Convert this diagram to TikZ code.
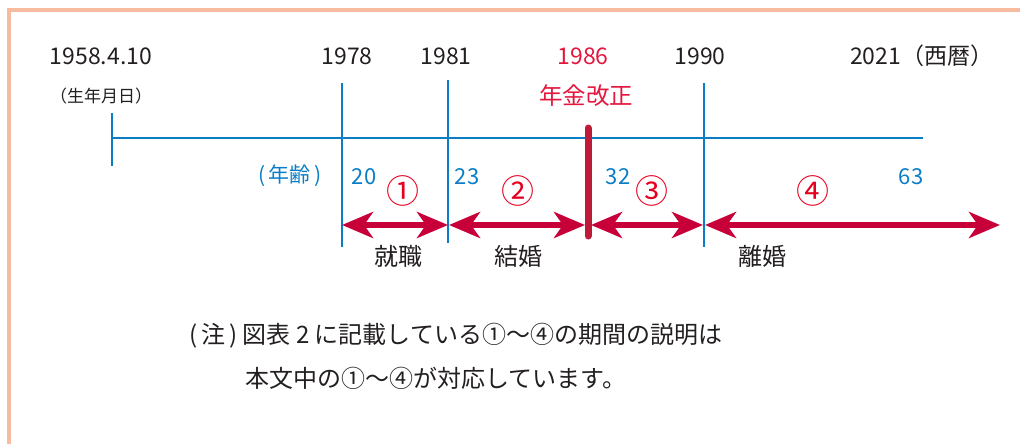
\documentclass[tikz,border=0pt]{standalone}
\usepackage{fontspec}
\setmainfont{Noto Sans CJK JP}
\usetikzlibrary{arrows.meta}
\definecolor{frameC}{HTML}{F7BBA0}
\definecolor{blueC}{HTML}{0A7DC6}
\definecolor{redT}{HTML}{E3173E}
\definecolor{redN}{HTML}{E60020}
\definecolor{arrC}{HTML}{C8003A}
\definecolor{barC}{HTML}{BE1A3A}
\definecolor{txt}{HTML}{231F20}
\tikzset{
  lbl/.style={inner sep=0pt, text=txt},
  yearlbl/.style={lbl, font=\fontsize{23}{23}\selectfont, anchor=base},
  agelbl/.style={inner sep=0pt, text=blueC, font=\fontsize{22}{22}\selectfont, anchor=base},
  numlbl/.style={inner sep=0pt, text=redN, font=\fontsize{33}{33}\selectfont},
  evlbl/.style={lbl, font=\fontsize{24}{24}\selectfont},
  notelbl/.style={lbl, anchor=west, font=\fontsize{24}{24}\selectfont},
  tline/.style={draw=blueC, line width=2pt},
  bigarrow/.style={draw=arrC, line width=6pt, {Stealth[length=31pt,width=26pt,inset=9pt]}-{Stealth[length=31pt,width=26pt,inset=9pt]}},
}
\begin{document}
\begin{tikzpicture}[x=1pt,y=-1pt]
\useasboundingbox (0,0) rectangle (1020,444);
% frame
\draw[frameC, line width=4pt] (9,470) -- (9,10.5) -- (1040,10.5);

% year labels
\node[yearlbl] (y1958) at (101,64) {1958.4.10};
\node[lbl, font=\fontsize{17}{17}\selectfont] (birth) at (101,96) {（生年月日）};
\node[yearlbl] (y1978) at (347,64) {1978};
\node[yearlbl] (y1981) at (446,64) {1981};
\node[yearlbl, text=redT] (y1986) at (583,64) {1986};
\node[yearlbl] (y1990) at (700,64) {1990};
\node[yearlbl, anchor=base west] (y2021) at (850,64) {2021（西暦）};
\node[inner sep=0pt, text=redT, font=\fontsize{23.5}{23.5}\selectfont] (kaisei) at (586,96) {年金改正};

% timeline
\coordinate (t0) at (112,138);
\coordinate (tE) at (923,138);
\coordinate (t0a) at (112,113);
\coordinate (t0b) at (112,166);
\draw[tline] (t0) -- (tE);
\draw[tline] (t0a) -- (t0b);
\coordinate (v1a) at (342,83);  \coordinate (v1b) at (342,247);
\coordinate (v2a) at (448,80);  \coordinate (v2b) at (448,243);
\coordinate (v3a) at (704,83);  \coordinate (v3b) at (704,247);
\draw[tline] (v1a) -- (v1b);
\draw[tline] (v2a) -- (v2b);
\draw[tline] (v3a) -- (v3b);

% red bar
\coordinate (ra) at (588,128);
\coordinate (rb) at (588,236);
\draw[barC, line width=7pt, line cap=round] (ra) -- (rb);

% ages
\node[inner sep=0pt, text=blueC, font=\fontsize{21}{21}\selectfont] (nenrei) at (290,176) {(\,年齢\,)};
\node[agelbl] (a20) at (364,184) {20};
\node[agelbl] (a23) at (467,184) {23};
\node[agelbl] (a32) at (618,184) {32};
\node[agelbl] (a63) at (911,184) {63};

% circled numbers
\node[numlbl] (n1) at (403,191) {①};
\node[numlbl] (n2) at (518,191) {②};
\node[numlbl] (n3) at (652,191) {③};
\node[numlbl] (n4) at (813,191) {④};

% arrows
\coordinate (p1s) at (342,225); \coordinate (p1e) at (448,225);
\coordinate (p2s) at (449,225); \coordinate (p2e) at (585,225);
\coordinate (p3s) at (591,225); \coordinate (p3e) at (703,225);
\coordinate (p4s) at (705,225); \coordinate (p4e) at (1000,225);
\draw[bigarrow] (p1s) -- (p1e);
\draw[bigarrow] (p2s) -- (p2e);
\draw[bigarrow] (p3s) -- (p3e);
\draw[bigarrow] (p4s) -- (p4e);

% events
\node[evlbl] (e1) at (398,256) {就職};
\node[evlbl] (e2) at (518,256) {結婚};
\node[evlbl] (e3) at (762,256) {離婚};

% note
\node[notelbl] (note1) at (189,336) {(\,注\,) 図表 2 に記載している①〜④の期間の説明は};
\node[notelbl] (note2) at (245,378) {本文中の①〜④が対応しています。};
\end{tikzpicture}
\end{document}
